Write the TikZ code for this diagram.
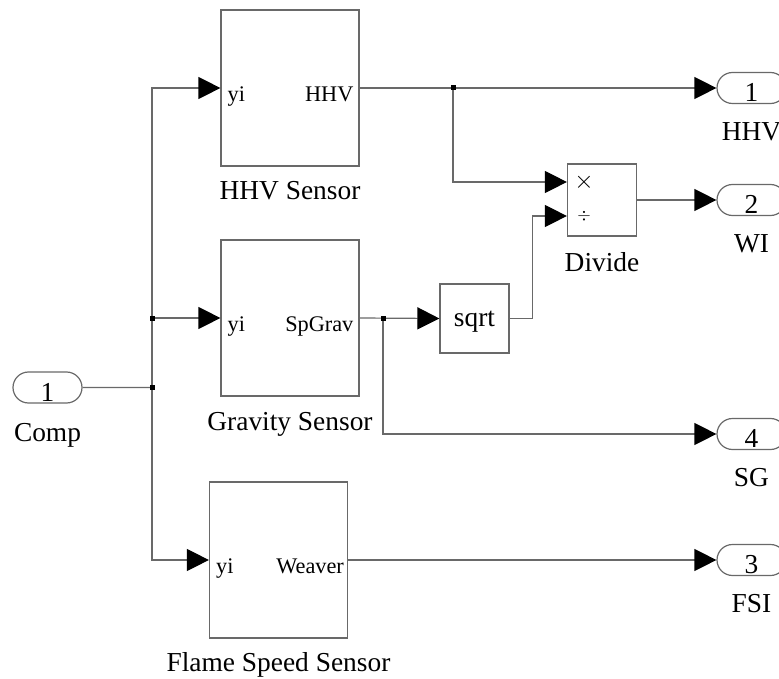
\documentclass[tikz,border=0pt]{standalone}
\usepackage{fontspec}
\setmainfont{Liberation Serif}
\usetikzlibrary{positioning,shapes.misc,arrows.meta}
\definecolor{wire}{RGB}{105,105,105}

\begin{document}
\begin{tikzpicture}[
    x=1pt, y=-1pt,
    block/.style={rectangle, draw=wire, line width=1.2pt, minimum width=138pt, minimum height=156pt, inner sep=0pt},
    smallblock/.style={rectangle, draw=wire, line width=1.2pt, minimum width=69pt, minimum height=70pt, inner sep=0pt},
    port/.style={rounded rectangle, draw=wire, line width=1.2pt, minimum width=69pt, minimum height=31pt, inner sep=0pt},
    lbl/.style={font=\fontsize{27.4}{30}\selectfont, inner sep=0pt},
    plbl/.style={font=\fontsize{22.3}{24}\selectfont, inner sep=0pt},
    sig/.style={draw=wire, line width=1.2pt},
    arr/.style={sig, -{Triangle[length=22pt,width=22pt,color=black]}},
    jdot/.style={rectangle, fill=black, minimum size=5pt, inner sep=0pt},
    node distance=16pt
]
\useasboundingbox (0,0) rectangle (779,679);
\clip (0,0) rectangle (779,679);

% sensor blocks
\node[block] (hhv) at (290,88) {};
\node[block] (grav) at (290,318) {};
\node[block] (flame) at (278.5,560) {};
\node[lbl, below=15pt of hhv] (hhv-name) {HHV Sensor};
\node[lbl, below=16pt of grav] (grav-name) {Gravity Sensor};
\node[lbl, below=14pt of flame] (flame-name) {Flame Speed Sensor};

\node[plbl, anchor=base west] (hhv-in) at ([xshift=7pt,yshift=-13.5pt]hhv.west) {yi};
\node[plbl, anchor=base east] (hhv-out) at ([xshift=-6pt,yshift=-13.5pt]hhv.east) {HHV};
\node[plbl, anchor=base west] (grav-in) at ([xshift=7pt,yshift=-13.5pt]grav.west) {yi};
\node[plbl, anchor=base east] (grav-out) at ([xshift=-6pt,yshift=-13.5pt]grav.east) {SpGrav};
\node[plbl, anchor=base west] (flame-in) at ([xshift=7pt,yshift=-13.5pt]flame.west) {yi};
\node[plbl, anchor=base east] (flame-out) at ([xshift=-4pt,yshift=-13.5pt]flame.east) {Weaver};

% math blocks
\node[smallblock, minimum height=72pt] (div) at (602,200) {};
\node[lbl, below=16pt of div] (div-name) {Divide};
\node[font=\fontsize{26}{28}\selectfont, inner sep=0pt] (div-mul) at (584,182) {$\times$};
\node[font=\fontsize{18}{20}\selectfont, inner sep=0pt] (div-div) at (584,216) {$\div$};
\node[smallblock, minimum height=69pt] (sqrt) at (474.5,318.5) {};
\node[lbl] (sqrt-name) at ([yshift=-3pt]sqrt.center) {sqrt};

% ports
\node[port] (in1) at (47.5,387.5) {};
\node[lbl, anchor=base] (in1-num) at ([yshift=2.5pt]in1.south) {1};
\node[lbl, below=20pt of in1] (in1-name) {Comp};

\node[port] (out1) at (751.5,88) {};
\node[port] (out2) at (751.5,200) {};
\node[port] (out4) at (751.5,434) {};
\node[port] (out3) at (751.5,560) {};
\node[lbl, anchor=base] (out1-num) at ([yshift=2.5pt]out1.south) {1};
\node[lbl, anchor=base] (out2-num) at ([yshift=2.5pt]out2.south) {2};
\node[lbl, anchor=base] (out4-num) at ([yshift=2.5pt]out4.south) {4};
\node[lbl, anchor=base] (out3-num) at ([yshift=2.5pt]out3.south) {3};
\node[lbl, below=18pt of out1] (out1-name) {HHV};
\node[lbl, below=18pt of out2] (out2-name) {WI};
\node[lbl, below=18pt of out4] (out4-name) {SG};
\node[lbl, below=18pt of out3] (out3-name) {FSI};

% branch points
\coordinate (j1) at (152,387.5);
\coordinate (j2) at (152,318);
\coordinate (j3) at (453,88);
\coordinate (j4) at (383,318);
\coordinate (div-a) at ([yshift=18pt]div.west);
\coordinate (div-b) at ([yshift=-16pt]div.west);

% signals
\draw[sig] (in1) -- (j1);
\draw[arr] (j1) |- (hhv.west);
\draw[arr] (j2) -- (grav.west);
\draw[arr] (j1) |- (flame.west);
\draw[arr] (hhv.east) -- (out1.west);
\draw[arr] (j3) |- (div-a);
\draw[arr] (grav.east) -- (sqrt.west);
\draw[arr] (sqrt.east) -- ++(23,0) |- (div-b);
\draw[arr] (div.east) -- (out2.west);
\draw[arr] (j4) |- (out4.west);
\draw[arr] (flame.east) -- (out3.west);

\foreach \j in {j1,j2,j3,j4}
    \node[jdot] (dot-\j) at (\j) {};

\end{tikzpicture}
\end{document}
